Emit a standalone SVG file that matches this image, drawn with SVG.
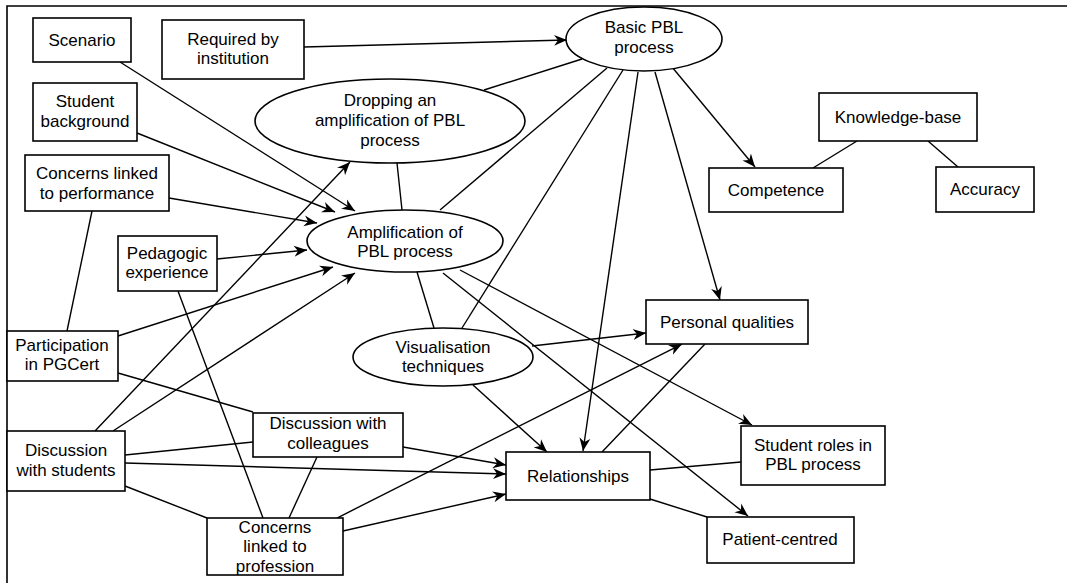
<svg xmlns="http://www.w3.org/2000/svg" width="1067" height="583" viewBox="0 0 1067 583">
<defs>
<marker id="arr" markerUnits="userSpaceOnUse" markerWidth="14" markerHeight="12" refX="13" refY="6" orient="auto">
<path d="M0,0.5 L13,6 L0,11.5 L4,6 z" fill="#000"/>
</marker>
<style>
.n rect, .n ellipse { fill:#fff; stroke:#000; stroke-width:1.6; }
.n text { font-family:"Liberation Sans", Arial, sans-serif; font-size:17px; fill:#000; text-anchor:middle; }
#edges line { stroke:#000; stroke-width:1.4; fill:none; }
#edges line.a { marker-end:url(#arr); }
.frame { stroke:#000; stroke-width:1.6; fill:none; }
</style>
</defs>
<rect width="1067" height="583" fill="#fff"/>
<path class="frame" d="M7,583 L7,6 L1067,6"/>

<g id="edges">
<line class="a" x1="304" y1="47" x2="567" y2="40"/>
<line class="a" x1="120" y1="62" x2="355" y2="211"/>
<line class="a" x1="137" y1="133" x2="335" y2="212"/>
<line class="a" x1="169" y1="198" x2="317" y2="223"/>
<line class="a" x1="217" y1="259" x2="307" y2="250"/>
<line class="a" x1="118" y1="336" x2="333" y2="267"/>
<line class="a" x1="113" y1="431" x2="355" y2="273"/>
<line class="a" x1="95" y1="431" x2="350" y2="162"/>
<line x1="92" y1="211" x2="67" y2="331"/>
<line x1="178" y1="291" x2="263" y2="518"/>
<line x1="118" y1="373" x2="253" y2="412"/>
<line x1="397" y1="163" x2="402" y2="210"/>
<line x1="582" y1="59" x2="484" y2="90"/>
<line x1="607" y1="68" x2="440" y2="210"/>
<line x1="623" y1="70" x2="462" y2="328"/>
<line class="a" x1="638" y1="72" x2="583" y2="451"/>
<line class="a" x1="655" y1="72" x2="720" y2="300"/>
<line class="a" x1="672" y1="67" x2="755" y2="167"/>
<line x1="857" y1="141" x2="813" y2="168"/>
<line x1="928" y1="141" x2="958" y2="167"/>
<line x1="417" y1="272" x2="434" y2="328"/>
<line class="a" x1="460" y1="270" x2="752" y2="425"/>
<line class="a" x1="443" y1="273" x2="748" y2="516"/>
<line class="a" x1="532" y1="346" x2="646" y2="333"/>
<line class="a" x1="473" y1="385" x2="547" y2="452"/>
<line class="a" x1="337" y1="518" x2="682" y2="344"/>
<line class="a" x1="343" y1="531" x2="506" y2="494"/>
<line class="a" x1="403" y1="447" x2="506" y2="465"/>
<line class="a" x1="125" y1="463" x2="506" y2="474"/>
<line x1="125" y1="455" x2="253" y2="442"/>
<line x1="125" y1="486" x2="207" y2="518"/>
<line x1="317" y1="457" x2="289" y2="518"/>
<line x1="602" y1="452" x2="705" y2="344"/>
<line x1="650" y1="470" x2="741" y2="462"/>
<line x1="650" y1="499" x2="707" y2="517"/>
</g>

<g id="scenario" class="n"><rect x="33" y="18" width="98" height="44"/><text x="82" y="46">Scenario</text></g>
<g id="required" class="n"><rect x="162" y="20" width="142" height="59"/><text x="233" y="45">Required by</text><text x="233" y="64">institution</text></g>
<g id="studentbg" class="n"><rect x="33" y="83" width="104" height="58"/><text x="85" y="107">Student</text><text x="85" y="127">background</text></g>
<g id="concperf" class="n"><rect x="25" y="155" width="144" height="56"/><text x="97" y="179">Concerns linked</text><text x="97" y="199">to performance</text></g>
<g id="basic" class="n"><ellipse cx="644" cy="39" rx="78" ry="32"/><text x="644" y="33">Basic PBL</text><text x="644" y="53">process</text></g>
<g id="dropping" class="n"><ellipse cx="390" cy="121" rx="135" ry="42"/><text x="390" y="106">Dropping an</text><text x="390" y="126">amplification of PBL</text><text x="390" y="146">process</text></g>
<g id="knowledge" class="n"><rect x="819" y="93" width="158" height="48"/><text x="898" y="123">Knowledge-base</text></g>
<g id="competence" class="n"><rect x="709" y="168" width="134" height="44"/><text x="776" y="196">Competence</text></g>
<g id="accuracy" class="n"><rect x="936" y="167" width="98" height="45"/><text x="985" y="195">Accuracy</text></g>
<g id="amplification" class="n"><ellipse cx="405" cy="241" rx="98" ry="31"/><text x="405" y="238">Amplification of</text><text x="405" y="257">PBL process</text></g>
<g id="pedagogic" class="n"><rect x="118" y="236" width="99" height="55"/><text x="167" y="259">Pedagogic</text><text x="167" y="278">experience</text></g>
<g id="participation" class="n"><rect x="7" y="331" width="111" height="50"/><text x="62" y="351">Participation</text><text x="62" y="370">in PGCert</text></g>
<g id="visualisation" class="n"><ellipse cx="443" cy="357" rx="90" ry="29"/><text x="443" y="353">Visualisation</text><text x="443" y="372">techniques</text></g>
<g id="personal" class="n"><rect x="646" y="300" width="162" height="44"/><text x="727" y="328">Personal qualities</text></g>
<g id="discstudents" class="n"><rect x="7" y="431" width="118" height="60"/><text x="66" y="456">Discussion</text><text x="66" y="476">with students</text></g>
<g id="disccoll" class="n"><rect x="253" y="413" width="150" height="44"/><text x="328" y="429">Discussion with</text><text x="328" y="449">colleagues</text></g>
<g id="concprof" class="n"><rect x="207" y="518" width="136" height="57"/><text x="275" y="533">Concerns</text><text x="275" y="552">linked to</text><text x="275" y="572">profession</text></g>
<g id="relationships" class="n"><rect x="506" y="452" width="144" height="48"/><text x="578" y="482">Relationships</text></g>
<g id="studentroles" class="n"><rect x="741" y="426" width="144" height="59"/><text x="813" y="451">Student roles in</text><text x="813" y="470">PBL process</text></g>
<g id="patient" class="n"><rect x="707" y="517" width="147" height="46"/><text x="780" y="545">Patient-centred</text></g>
</svg>
